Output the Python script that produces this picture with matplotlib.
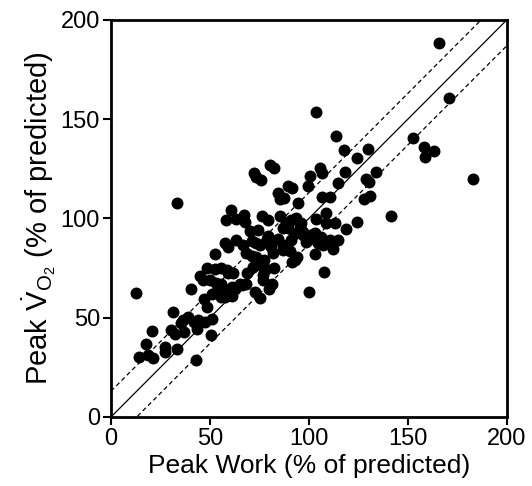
import numpy as np
import matplotlib
matplotlib.use('Agg')
import matplotlib.pyplot as plt

plt.rcParams['font.family'] = ['Liberation Sans', 'DejaVu Sans']
plt.rcParams['mathtext.fontset'] = 'custom'
plt.rcParams['mathtext.rm'] = 'Liberation Sans'
plt.rcParams['mathtext.it'] = 'Liberation Sans:italic'

# peak work (% predicted) vs peak VO2 (% predicted)
work = [166, 170.7, 103.8, 113.5, 152.6, 158, 163.2, 158.8, 117.7, 129.7,
        124.5, 183, 72.3, 73.5, 75.7, 80.6, 82.3, 105.5, 106.8, 100.4,
        118.1, 134, 128.7, 130.4, 114.9, 99.6, 89.7, 91.3, 84.4, 85.3,
        87.5, 106.8, 110.5, 127.7, 131, 33.5, 94.7, 60.6, 58.2, 63.1,
        67.3, 67.6, 76.4, 79.4, 85.3, 88.6, 93.7, 95.4, 103.8, 108.8,
        113.2, 108.8, 124.5, 141.6, 118.9, 89.5, 92.3, 97.1, 74.3, 79.1,
        84.4, 91.2, 99.6, 102.9, 104.6, 106.8, 110.5, 114.7, 112.2, 103,
        63.4, 57.7, 59.2, 52.5, 66.8, 68, 71.5, 71.5, 75.5, 80.7,
        81.9, 87, 90.3, 94.2, 91.7, 77.2, 76.4, 78.2, 76.9, 82.4,
        68.5, 68, 61.2, 62.6, 61.2, 58.4, 59.2, 52.5, 48.3, 44.9,
        46.6, 50, 53, 54.5, 50.8, 55.4, 40.2, 46.9, 48.3, 12.6,
        73, 75.2, 79.9, 81.4, 99.9, 107.5, 31.5, 30.3, 35.3, 36.5,
        39, 37, 32.4, 41.9, 44.2, 43.7, 47.4, 50.8, 50.5, 20.5,
        17.7, 14.3, 18.8, 21, 27.3, 27.3, 33.6, 43.2,
        91.2, 96.2, 87, 97.1, 102.1, 106.3, 98.7, 107.1, 110.5, 87,
        92.9, 73.5, 78.6, 71.8, 73.5, 76.9, 55.8, 57.5, 65.1, 61.7,
        55.8, 57.5, 60.9, 66, 70.5]
vo2 = [188.5, 160.5, 153.8, 141.5, 140.3, 136.1, 134.1, 131.1, 134.5, 134.8,
       130.6, 120, 123, 121, 119.3, 126.9, 125.2, 125.2, 122.7, 121.5,
       123.2, 123.2, 119.7, 118.5, 118, 116.5, 116.3, 115.1, 112.6, 109.7,
       110.4, 110.6, 110.6, 109.6, 111.4, 107.6, 107.6, 104.2, 99.2, 99.5,
       101.7, 98.3, 101.2, 99.2, 101.3, 97.5, 100, 95.8, 99.5, 102.5,
       97.8, 97.5, 98.3, 101.3, 94.6, 95.1, 92.4, 93.3, 94.1, 91.1,
       89.9, 89.1, 89.4, 92.8, 87.7, 89.4, 89.1, 89.1, 84.5, 82,
       89.4, 87.4, 85.4, 82, 86.6, 82.4, 88.7, 81, 86.6, 85.4,
       82.4, 84, 83.7, 80.7, 78.2, 79.3, 76, 74.3, 71.4, 75.1,
       72.6, 67.2, 65.5, 64.7, 60.8, 74, 72.3, 74.5, 75.1, 71.1,
       68.9, 69.2, 67.6, 65.5, 62.2, 60.2, 64.7, 59.2, 55.5, 62.5,
       63, 59.7, 64.7, 66.9, 63, 73.1, 52.9, 44, 47.1, 49.1,
       50.4, 42.9, 41.7, 47.9, 48.7, 44.5, 47.9, 49.6, 41.2, 43.2,
       36.6, 30.3, 31.1, 29.9, 35.3, 32.8, 34.1, 28.6,
       99.2, 97.5, 95, 91.6, 92.4, 90.8, 88.2, 86.6, 88.2, 86.6,
       79, 87.4, 89.5, 75.6, 80.7, 68.9, 67.2, 63.9, 67.2, 72.3,
       74.8, 60.5, 63, 66.4, 93.5]

band = 13  # offset of the dashed limits

fig = plt.figure(figsize=(5.32, 4.86), dpi=100)
ax = fig.add_axes([0.2086, 0.142, 0.744, 0.817])

line = np.array([0, 200])
ax.plot(line, line, color='black', lw=0.9, zorder=1)
ax.plot(line, line + band, color='black', lw=0.9, ls=(0, (3.5, 2.5)), zorder=1)
ax.plot(line, line - band, color='black', lw=0.9, ls=(0, (3.5, 2.5)), zorder=1)

ax.plot(work, vo2, 'o', color='black', markersize=8.6, markeredgewidth=0, zorder=3)

ax.set_xlim(0, 200)
ax.set_ylim(0, 200)
ax.set_xticks([0, 50, 100, 150, 200])
ax.set_yticks([0, 50, 100, 150, 200])
ax.tick_params(direction='out', length=6, width=1.5, labelsize=17, pad=2)
for s in ax.spines.values():
    s.set_linewidth(2)

ax.set_xlabel('Peak Work (% of predicted)', fontsize=19, labelpad=3)
ax.set_ylabel(r'Peak $\dot{\mathrm{V}}_{\mathrm{O}_2}$ (% of predicted)',
              fontsize=21, labelpad=2)

fig.savefig('out.png', dpi=100, facecolor='white')
